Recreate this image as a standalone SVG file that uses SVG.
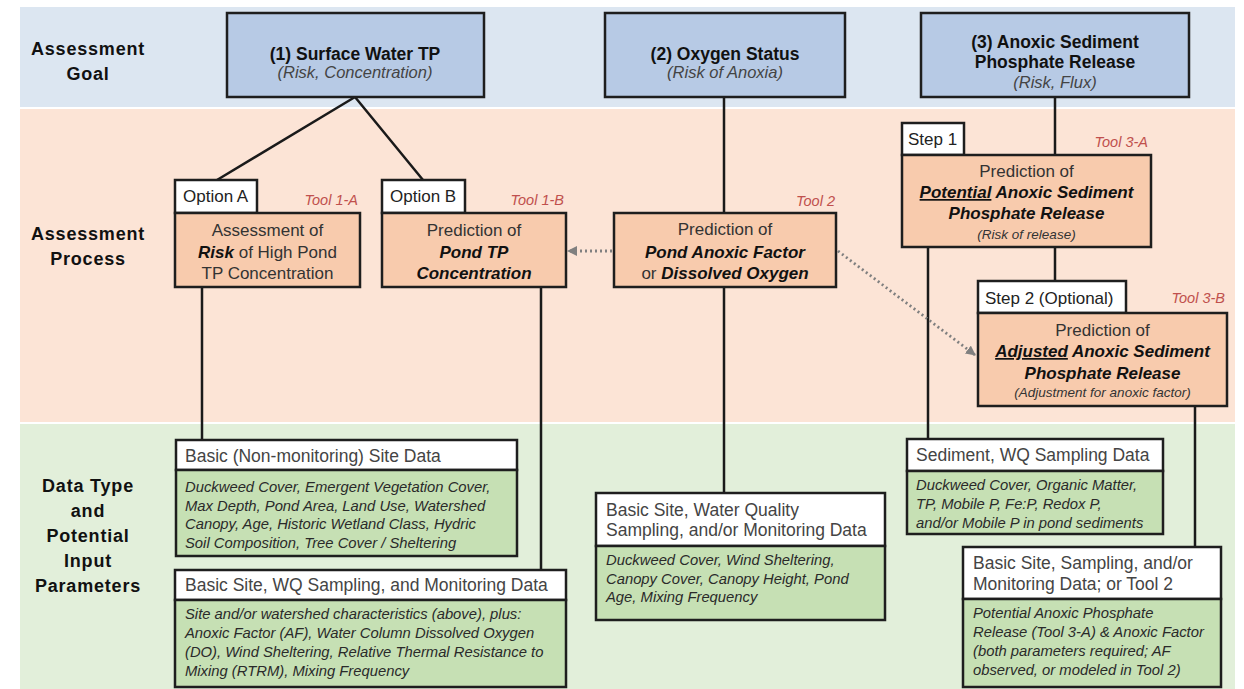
<svg xmlns="http://www.w3.org/2000/svg" width="1244" height="689" viewBox="0 0 1244 689">
<style>
.bg{fill:#ffffff}
.band-goal{fill:#dce6f1}
.band-proc{fill:#fce4d6}
.band-data{fill:#e2efda}
.box{stroke:#1e1e1e;stroke-width:2.5}
.goal{fill:#b7cae5}
.proc{fill:#f8cbad}
.tab{fill:#ffffff}
.body{fill:#c6e0b4}
text{font-family:"Liberation Sans",Arial,sans-serif}
.lbl{font-size:18px;font-weight:bold;fill:#111;letter-spacing:0.8px}
.t-title{font-size:17.5px;font-weight:bold;fill:#111}
.t-sub{font-size:16.5px;font-style:italic;fill:#444}
.t-proc{font-size:17px;fill:#333}
.em{font-weight:bold;font-style:italic;fill:#111}
.t-small{font-size:13.5px;font-style:italic;fill:#333}
.tool{font-size:14.5px;font-style:italic;fill:#c0504d}
.t-tab{font-size:17px;fill:#222}
.t-head{font-size:17.5px;fill:#444}
.t-body{font-size:14.8px;font-style:italic;fill:#2a2a2a}
.conn{stroke:#1a1a1a;stroke-width:2.5;fill:none}
.dot{stroke:#808080;stroke-width:2.8;stroke-dasharray:2 3;fill:none}
</style>
<defs>
<marker id="arr" markerWidth="10" markerHeight="10" refX="9" refY="5" orient="auto" markerUnits="userSpaceOnUse">
<path d="M0,0 L10,5 L0,10 z" fill="#808080"/>
</marker>
</defs>
<rect class="bg" x="0" y="0" width="1244" height="689"/>
<g id="bands">
<rect class="band-goal" x="20" y="7" width="1215" height="100"/>
<rect class="band-proc" x="20" y="109" width="1215" height="313"/>
<rect class="band-data" x="20" y="424" width="1215" height="265"/>
</g>
<g id="row-labels">
<text class="lbl" x="88" text-anchor="middle"><tspan x="88" y="55">Assessment</tspan><tspan x="88" y="80">Goal</tspan></text>
<text class="lbl" x="88" text-anchor="middle"><tspan x="88" y="240">Assessment</tspan><tspan x="88" y="265">Process</tspan></text>
<text class="lbl" x="88" text-anchor="middle"><tspan x="88" y="492">Data Type</tspan><tspan x="88" y="517">and</tspan><tspan x="88" y="542">Potential</tspan><tspan x="88" y="567">Input</tspan><tspan x="88" y="592">Parameters</tspan></text>
</g>
<g id="connectors">
<path class="conn" d="M355,97 L217,180 M355,97 L423,180"/>
<path class="conn" d="M724,97 V213"/>
<path class="conn" d="M1055,97 V155"/>
<path class="conn" d="M202,287 V440"/>
<path class="conn" d="M541,287 V570"/>
<path class="conn" d="M724,287 V493"/>
<path class="conn" d="M928,247 V439"/>
<path class="conn" d="M1055,247 V281"/>
<path class="conn" d="M1195,406 V547"/>
<path class="dot" d="M612,251 L568,251" marker-end="url(#arr)"/>
<path class="dot" d="M838,251 L975,355" marker-end="url(#arr)"/>
</g>
<g id="goal1">
<rect class="box goal" x="227" y="13" width="257" height="84"/>
<text class="t-title" x="355" y="60" text-anchor="middle">(1) Surface Water TP</text>
<text class="t-sub" x="355" y="78" text-anchor="middle">(Risk, Concentration)</text>
</g>
<g id="goal2">
<rect class="box goal" x="605" y="13" width="240" height="84"/>
<text class="t-title" x="725" y="60" text-anchor="middle">(2) Oxygen Status</text>
<text class="t-sub" x="725" y="78" text-anchor="middle">(Risk of Anoxia)</text>
</g>
<g id="goal3">
<rect class="box goal" x="921" y="13" width="268" height="84"/>
<text class="t-title" x="1055" y="48" text-anchor="middle">(3) Anoxic Sediment</text>
<text class="t-title" x="1055" y="68" text-anchor="middle">Phosphate Release</text>
<text class="t-sub" x="1055" y="88" text-anchor="middle">(Risk, Flux)</text>
</g>
<g id="tool1a">
<rect class="box tab" x="175" y="180" width="82" height="33"/>
<text class="t-tab" x="183" y="202">Option A</text>
<text class="tool" x="358" y="205" text-anchor="end">Tool 1-A</text>
<rect class="box proc" x="175" y="213" width="185" height="74"/>
<text class="t-proc" x="267.5" y="236" text-anchor="middle">Assessment of</text>
<text class="t-proc" x="267.5" y="258" text-anchor="middle"><tspan class="em">Risk</tspan> of High Pond</text>
<text class="t-proc" x="267.5" y="279" text-anchor="middle">TP Concentration</text>
</g>
<g id="tool1b">
<rect class="box tab" x="382" y="180" width="83" height="33"/>
<text class="t-tab" x="390" y="202">Option B</text>
<text class="tool" x="564" y="205" text-anchor="end">Tool 1-B</text>
<rect class="box proc" x="382" y="213" width="184" height="74"/>
<text class="t-proc" x="474" y="236" text-anchor="middle">Prediction of</text>
<text class="t-proc em" x="474" y="258" text-anchor="middle">Pond TP</text>
<text class="t-proc em" x="474" y="279" text-anchor="middle">Concentration</text>
</g>
<g id="tool2">
<text class="tool" x="835" y="206" text-anchor="end">Tool 2</text>
<rect class="box proc" x="614" y="213" width="222" height="74"/>
<text class="t-proc" x="725" y="235" text-anchor="middle">Prediction of</text>
<text class="t-proc em" x="725" y="258" text-anchor="middle">Pond Anoxic Factor</text>
<text class="t-proc" x="725" y="279" text-anchor="middle">or <tspan class="em">Dissolved Oxygen</tspan></text>
</g>
<g id="tool3a">
<rect class="box tab" x="902" y="123" width="62" height="32"/>
<text class="t-tab" x="908" y="145">Step 1</text>
<text class="tool" x="1148" y="147" text-anchor="end">Tool 3-A</text>
<rect class="box proc" x="902" y="155" width="249" height="92"/>
<text class="t-proc" x="1026.5" y="177" text-anchor="middle">Prediction of</text>
<text class="t-proc em" x="1026.5" y="198" text-anchor="middle"><tspan text-decoration="underline">Potential</tspan> Anoxic Sediment</text>
<text class="t-proc em" x="1026.5" y="219" text-anchor="middle">Phosphate Release</text>
<text class="t-small" x="1026.5" y="239" text-anchor="middle">(Risk of release)</text>
</g>
<g id="tool3b">
<rect class="box tab" x="978" y="281" width="148" height="32"/>
<text class="t-tab" x="985" y="304">Step 2 (Optional)</text>
<text class="tool" x="1225" y="303" text-anchor="end">Tool 3-B</text>
<rect class="box proc" x="978" y="313" width="249" height="93"/>
<text class="t-proc" x="1102.5" y="336" text-anchor="middle">Prediction of</text>
<text class="t-proc em" x="1102.5" y="357" text-anchor="middle"><tspan text-decoration="underline">Adjusted</tspan> Anoxic Sediment</text>
<text class="t-proc em" x="1102.5" y="379" text-anchor="middle">Phosphate Release</text>
<text class="t-small" x="1102.5" y="397" text-anchor="middle">(Adjustment for anoxic factor)</text>
</g>
<g id="data-basic">
<rect class="box tab" x="176" y="440" width="341" height="30"/>
<rect class="box body" x="176" y="470" width="341" height="86"/>
<text class="t-head" x="185" y="462">Basic (Non-monitoring) Site Data</text>
<text class="t-body"><tspan x="185" y="492">Duckweed Cover, Emergent Vegetation Cover,</tspan><tspan x="185" y="510.5">Max Depth, Pond Area, Land Use, Watershed</tspan><tspan x="185" y="529">Canopy, Age, Historic Wetland Class, Hydric</tspan><tspan x="185" y="547.5">Soil Composition, Tree Cover / Sheltering</tspan></text>
</g>
<g id="data-wq-monitoring">
<rect class="box tab" x="175" y="570" width="391" height="30"/>
<rect class="box body" x="175" y="600" width="391" height="87"/>
<text class="t-head" x="185" y="591">Basic Site, WQ Sampling, and Monitoring Data</text>
<text class="t-body"><tspan x="185" y="619">Site and/or watershed characteristics (above), plus:</tspan><tspan x="185" y="638">Anoxic Factor (AF), Water Column Dissolved Oxygen</tspan><tspan x="185" y="657">(DO), Wind Sheltering, Relative Thermal Resistance to</tspan><tspan x="185" y="676">Mixing (RTRM), Mixing Frequency</tspan></text>
</g>
<g id="data-oxygen">
<rect class="box tab" x="596" y="493" width="289" height="53"/>
<rect class="box body" x="596" y="546" width="289" height="74"/>
<text class="t-head"><tspan x="606" y="516">Basic Site, Water Quality</tspan><tspan x="606" y="536">Sampling, and/or Monitoring Data</tspan></text>
<text class="t-body"><tspan x="606" y="565">Duckweed Cover, Wind Sheltering,</tspan><tspan x="606" y="583.5">Canopy Cover, Canopy Height, Pond</tspan><tspan x="606" y="602">Age, Mixing Frequency</tspan></text>
</g>
<g id="data-sediment">
<rect class="box tab" x="907" y="439" width="256" height="32"/>
<rect class="box body" x="907" y="471" width="256" height="63"/>
<text class="t-head" x="916" y="461">Sediment, WQ Sampling Data</text>
<text class="t-body"><tspan x="916" y="490">Duckweed Cover, Organic Matter,</tspan><tspan x="916" y="509">TP, Mobile P, Fe:P, Redox P,</tspan><tspan x="916" y="528">and/or Mobile P in pond sediments</tspan></text>
</g>
<g id="data-adjusted">
<rect class="box tab" x="963" y="547" width="258" height="52"/>
<rect class="box body" x="963" y="599" width="258" height="88"/>
<text class="t-head"><tspan x="973" y="569">Basic Site, Sampling, and/or</tspan><tspan x="973" y="590">Monitoring Data; or Tool 2</tspan></text>
<text class="t-body"><tspan x="973" y="618">Potential Anoxic Phosphate</tspan><tspan x="973" y="637">Release (Tool 3-A) &amp; Anoxic Factor</tspan><tspan x="973" y="656">(both parameters required; AF</tspan><tspan x="973" y="675">observed, or modeled in Tool 2)</tspan></text>
</g>
</svg>
